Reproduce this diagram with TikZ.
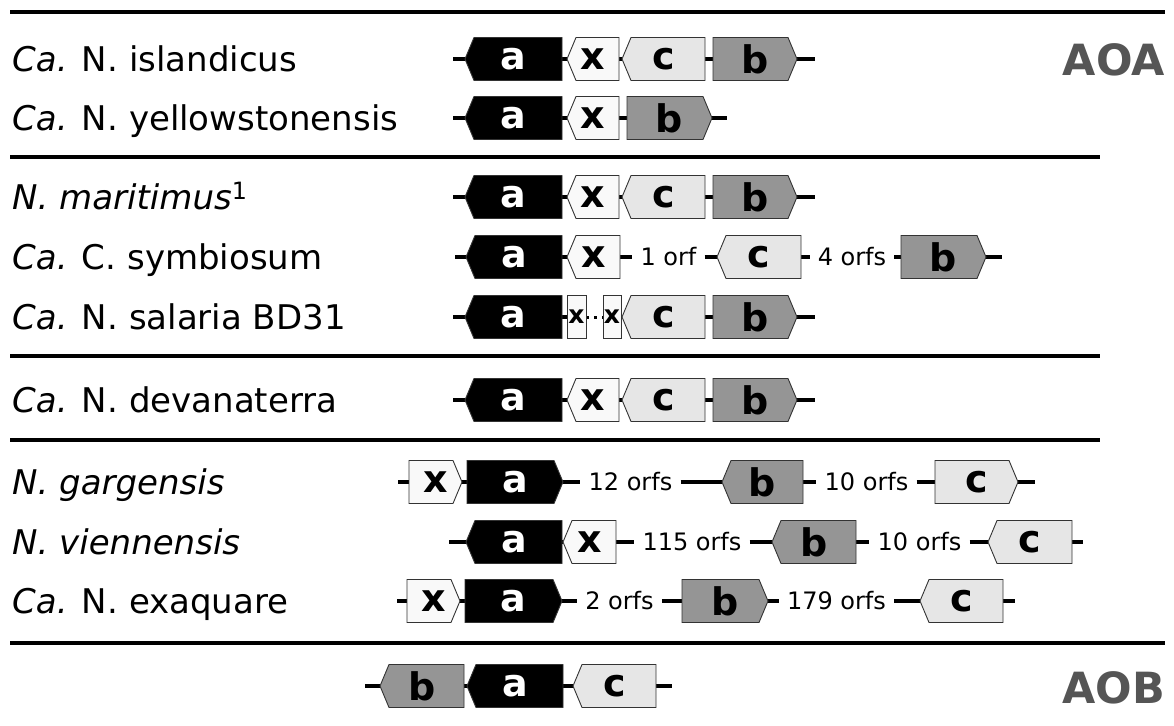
\documentclass[tikz,border=0pt]{standalone}
\usepackage{fontspec}
\setmainfont{DejaVu Sans}
\usetikzlibrary{backgrounds}
\definecolor{xfill}{HTML}{F9F9F9}
\definecolor{cfill}{HTML}{E6E6E6}
\definecolor{bfill}{HTML}{959595}
\definecolor{edge}{HTML}{333333}
\definecolor{grpgray}{HTML}{555555}
\newcommand\gene[7]{%
  \ifx L#5
    \path[gshape,shape-#6] (#2,#4) -- (#2+9,#4-21.5) -- (#3,#4-21.5) -- (#3,#4+21.5) -- (#2+9,#4+21.5) -- cycle;
  \else\ifx R#5
    \path[gshape,shape-#6] (#2,#4-21.5) -- (#3-9,#4-21.5) -- (#3,#4) -- (#3-9,#4+21.5) -- (#2,#4+21.5) -- cycle;
  \else
    \path[gshape,shape-#6] (#2,#4-21.5) rectangle (#3,#4+21.5);
  \fi\fi
  \node[glabel,lab-#6,minimum width={(#3-#2)*1pt}] (#1) at ({(#2+#3)/2},#4) {#7};
}
\begin{document}
\begin{tikzpicture}[x=1pt,y=-1pt,
  gshape/.style={draw=edge,line width=0.9pt,line join=miter},
  shape-a/.style={fill=black},
  shape-x/.style={fill=xfill},
  shape-xs/.style={fill=xfill},
  shape-c/.style={fill=cfill},
  shape-b/.style={fill=bfill},
  glabel/.style={inner sep=0pt,minimum height=43pt,font=\fontsize{38}{38}\bfseries},
  lab-a/.style={text=white},
  lab-x/.style={text=black},
  lab-xs/.style={text=black,font=\fontsize{25}{25}\bfseries},
  lab-c/.style={text=black},
  lab-b/.style={text=black},
  bb/.style={line width=4pt,black},
  rule/.style={line width=3.5pt,black},
  species/.style={anchor=base west,inner sep=0pt,font=\fontsize{34}{34}\selectfont},
  orf/.style={inner xsep=8pt,inner ysep=0pt,font=\fontsize{24}{24}\selectfont},
  grp/.style={anchor=base east,inner sep=0pt,text=grpgray,font=\fontsize{43}{43}\bfseries}]
\useasboundingbox (0,0) rectangle (1174,725);

% rules
\draw[rule] (10,12) -- (1165,12);
\draw[rule] (10,157) -- (1100,157);
\draw[rule] (10,356) -- (1100,356);
\draw[rule] (10,440) -- (1100,440);
\draw[rule] (10,643) -- (1165,643);

% group labels
\node[grp] (aoa) at (1165,75) {AOA};
\node[grp] (aob) at (1165,703) {AOB};

% species
\node[species] (s1) at (12,71) {\textit{Ca.} N. islandicus};
\node[species] (s2) at (12,130) {\textit{Ca.} N. yellowstonensis};
\node[species] (s3) at (12,209) {\textit{N. maritimus}\textsuperscript{1}};
\node[species] (s4) at (12,269) {\textit{Ca.} C. symbiosum};
\node[species] (s5) at (12,329) {\textit{Ca.} N. salaria BD31};
\node[species] (s6) at (12,412) {\textit{Ca.} N. devanaterra};
\node[species] (s7) at (12,494) {\textit{N. gargensis}};
\node[species] (s8) at (12,554) {\textit{N. viennensis}};
\node[species] (s9) at (12,613) {\textit{Ca.} N. exaquare};

% row 1
\gene{r1a}{465}{562}{59}{L}{a}{a}
\gene{r1x}{567}{619}{59}{L}{x}{x}
\gene{r1c}{622}{705}{59}{L}{c}{c}
\gene{r1b}{713}{797}{59}{R}{b}{b}
\coordinate (r1s) at (453,59);
\coordinate (r1e) at (815,59);
% row 2
\gene{r2a}{465}{562}{118}{L}{a}{a}
\gene{r2x}{567}{619}{118}{L}{x}{x}
\gene{r2b}{627}{712}{118}{R}{b}{b}
\coordinate (r2s) at (453,118);
\coordinate (r2e) at (727,118);
% row 3
\gene{r3a}{465}{562}{197}{L}{a}{a}
\gene{r3x}{567}{619}{197}{L}{x}{x}
\gene{r3c}{622}{705}{197}{L}{c}{c}
\gene{r3b}{713}{797}{197}{R}{b}{b}
\coordinate (r3s) at (453,197);
\coordinate (r3e) at (815,197);
% row 4
\gene{r4a}{466}{562}{257}{L}{a}{a}
\gene{r4x}{567}{620}{257}{L}{x}{x}
\node[orf] (r4o1) at (668.5,257) {1 orf};
\gene{r4c}{717}{801}{257}{L}{c}{c}
\node[orf] (r4o2) at (852,257) {4 orfs};
\gene{r4b}{901}{986}{257}{R}{b}{b}
\coordinate (r4s) at (455,257);
\coordinate (r4e) at (1002,257);
% row 5
\gene{r5a}{465}{562}{317}{L}{a}{a}
\gene{r5x1}{567}{586}{317}{N}{xs}{x}
\gene{r5x2}{603}{621}{317}{N}{xs}{x}
\gene{r5c}{622}{705}{317}{L}{c}{c}
\gene{r5b}{713}{797}{317}{R}{b}{b}
\coordinate (r5s) at (453,317);
\coordinate (r5e) at (815,317);
% row 6
\gene{r6a}{465}{562}{400}{L}{a}{a}
\gene{r6x}{567}{619}{400}{L}{x}{x}
\gene{r6c}{622}{705}{400}{L}{c}{c}
\gene{r6b}{713}{797}{400}{R}{b}{b}
\coordinate (r6s) at (453,400);
\coordinate (r6e) at (815,400);
% row 7
\gene{r7x}{409}{462}{482}{R}{x}{x}
\gene{r7a}{467}{563}{482}{R}{a}{a}
\node[orf] (r7o1) at (630.5,482) {12 orfs};
\gene{r7b}{722}{803}{482}{L}{b}{b}
\node[orf] (r7o2) at (866.5,482) {10 orfs};
\gene{r7c}{935}{1018}{482}{R}{c}{c}
\coordinate (r7s) at (398,482);
\coordinate (r7e) at (1035,482);
% row 8
\gene{r8a}{466}{562}{542}{L}{a}{a}
\gene{r8x}{563}{616}{542}{L}{x}{x}
\node[orf] (r8o1) at (692,542) {115 orfs};
\gene{r8b}{772}{856}{542}{L}{b}{b}
\node[orf] (r8o2) at (919.5,542) {10 orfs};
\gene{r8c}{988}{1072}{542}{L}{c}{c}
\coordinate (r8s) at (449,542);
\coordinate (r8e) at (1083,542);
% row 9
\gene{r9x}{407}{460}{601}{R}{x}{x}
\gene{r9a}{465}{562}{601}{R}{a}{a}
\node[orf] (r9o1) at (619.5,601) {2 orfs};
\gene{r9b}{682}{768}{601}{R}{b}{b}
\node[orf] (r9o2) at (836.5,601) {179 orfs};
\gene{r9c}{920}{1003}{601}{L}{c}{c}
\coordinate (r9s) at (397,601);
\coordinate (r9e) at (1015,601);
% row 10
\gene{r10b}{380}{464}{686}{L}{b}{b}
\gene{r10a}{467}{563}{686}{L}{a}{a}
\gene{r10c}{573}{656}{686}{L}{c}{c}
\coordinate (r10s) at (365,686);
\coordinate (r10e) at (672,686);

\begin{scope}[on background layer]
\draw[bb] (r1s) -- (r1a.west) (r1a.east) -- (r1x.west) (r1x.east) -- (r1c.west) (r1c.east) -- (r1b.west) (r1b.east) -- (r1e);
\draw[bb] (r2s) -- (r2a.west) (r2a.east) -- (r2x.west) (r2x.east) -- (r2b.west) (r2b.east) -- (r2e);
\draw[bb] (r3s) -- (r3a.west) (r3a.east) -- (r3x.west) (r3x.east) -- (r3c.west) (r3c.east) -- (r3b.west) (r3b.east) -- (r3e);
\draw[bb] (r4s) -- (r4a.west) (r4a.east) -- (r4x.west) (r4x.east) -- (r4o1.west) (r4o1.east) -- (r4c.west) (r4c.east) -- (r4o2.west) (r4o2.east) -- (r4b.west) (r4b.east) -- (r4e);
\draw[bb] (r5s) -- (r5a.west) (r5a.east) -- (r5x1.west) (r5x2.east) -- (r5c.west) (r5c.east) -- (r5b.west) (r5b.east) -- (r5e);
\draw[line width=3pt,dash pattern=on 3pt off 5pt] (r5x1.east) -- (r5x2.west);
\draw[bb] (r6s) -- (r6a.west) (r6a.east) -- (r6x.west) (r6x.east) -- (r6c.west) (r6c.east) -- (r6b.west) (r6b.east) -- (r6e);
\draw[bb] (r7s) -- (r7x.west) (r7x.east) -- (r7a.west) (r7a.east) -- (r7o1.west) (r7o1.east) -- (r7b.west) (r7b.east) -- (r7o2.west) (r7o2.east) -- (r7c.west) (r7c.east) -- (r7e);
\draw[bb] (r8s) -- (r8a.west) (r8a.east) -- (r8x.west) (r8x.east) -- (r8o1.west) (r8o1.east) -- (r8b.west) (r8b.east) -- (r8o2.west) (r8o2.east) -- (r8c.west) (r8c.east) -- (r8e);
\draw[bb] (r9s) -- (r9x.west) (r9x.east) -- (r9a.west) (r9a.east) -- (r9o1.west) (r9o1.east) -- (r9b.west) (r9b.east) -- (r9o2.west) (r9o2.east) -- (r9c.west) (r9c.east) -- (r9e);
\draw[bb] (r10s) -- (r10b.west) (r10b.east) -- (r10a.west) (r10a.east) -- (r10c.west) (r10c.east) -- (r10e);
\end{scope}
\end{tikzpicture}
\end{document}
